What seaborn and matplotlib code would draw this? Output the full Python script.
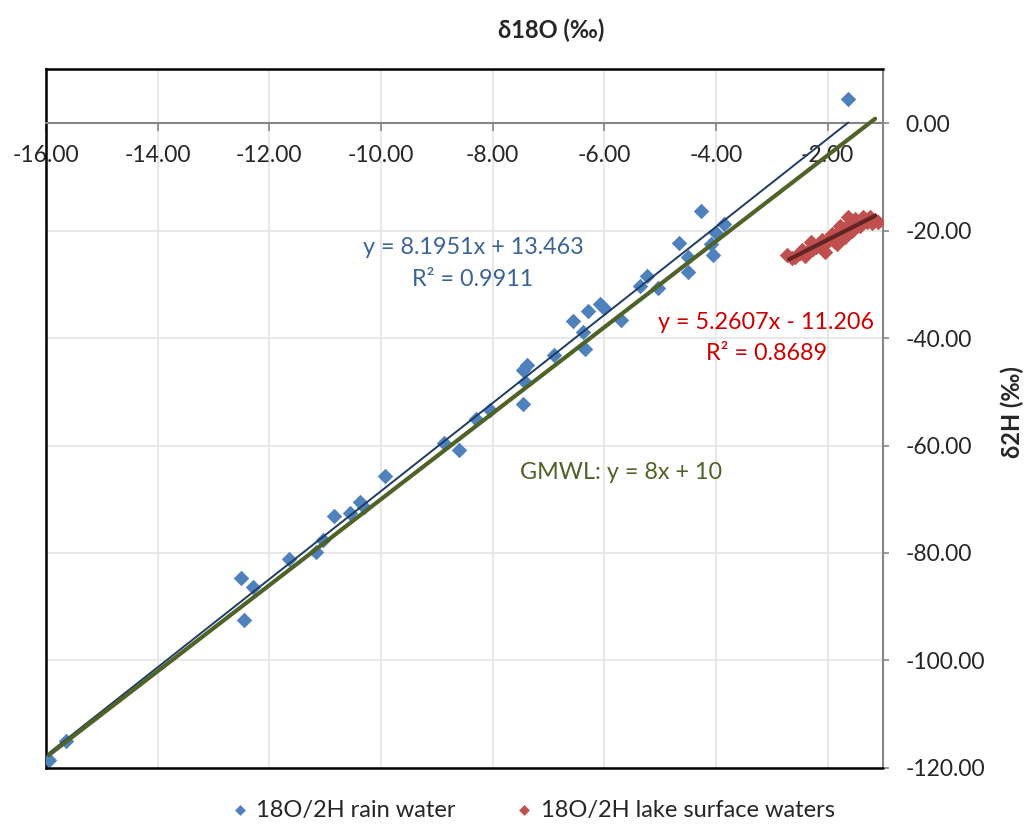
import numpy as np
import pandas as pd
import matplotlib.pyplot as plt
import seaborn as sns

# rain water samples (d18O, d2H)
rain_d18o = [-15.94, -15.65, -12.51, -12.29, -12.45, -11.65, -11.17, -11.03, -10.84, -10.55,
             -10.38, -10.30, -9.92, -8.87, -8.61, -8.30, -8.04, -7.46, -7.39, -7.42,
             -7.46, -6.90, -6.56, -6.30, -6.39, -6.35, -6.07, -6.01, -5.70, -5.36,
             -5.24, -5.03, -4.66, -4.50, -4.50, -4.27, -4.09, -4.06, -4.00, -3.86, -1.63]
rain_d2h = [-118.6, -114.9, -84.7, -86.4, -92.4, -81.2, -79.8, -77.5, -73.2, -72.5,
            -70.6, -71.5, -65.7, -59.5, -60.9, -55.0, -53.4, -45.9, -45.0, -48.2,
            -52.2, -43.1, -36.9, -35.0, -38.8, -42.0, -33.6, -34.4, -36.6, -30.4,
            -28.4, -30.7, -22.3, -24.9, -27.7, -16.3, -22.5, -24.5, -20.5, -18.7, 4.4]

# lake surface water samples
lake_d18o = [-2.72, -2.64, -2.58, -2.50, -2.46, -2.40, -2.35, -2.29, -2.26, -2.20,
             -2.15, -2.11, -2.05, -2.00, -1.96, -1.93, -1.88, -1.84, -1.80, -1.78,
             -1.73, -1.69, -1.66, -1.63, -1.60, -1.57, -1.54, -1.51, -1.47, -1.42,
             -1.39, -1.36, -1.30, -1.27, -1.24, -1.20, -1.15, -1.09]
lake_d2h = [-24.6, -25.2, -24.9, -24.2, -23.7, -24.8, -23.9, -22.2, -23.4, -23.0,
            -22.6, -21.8, -24.0, -22.0, -21.4, -20.6, -21.9, -22.5, -20.3, -19.1,
            -20.5, -21.2, -19.6, -17.5, -18.6, -20.0, -19.2, -17.8, -18.9, -19.1,
            -18.2, -17.5, -18.4, -17.9, -17.4, -18.6, -18.1, -18.4]

# trendline coefficients (slope, intercept) and GMWL extent
rain_fit = (8.1951, 13.463)
lake_fit = (5.2607, -11.206)
gmwl_fit = (8.0, 10.0)
gmwl_x = [-15.95, -1.15]
lake_fit_x = [-2.69, -1.15]

x_ticks = [-16, -14, -12, -10, -8, -6, -4, -2]
y_ticks = [-120, -100, -80, -60, -40, -20, 0]

rain = pd.DataFrame({'d18O': rain_d18o, 'd2H': rain_d2h})
lake = pd.DataFrame({'d18O': lake_d18o, 'd2H': lake_d2h})

sns.set_theme(style='white')
plt.rcParams['font.family'] = ['Lato', 'DejaVu Sans']

fig = plt.figure(figsize=(10.26, 8.24), dpi=100)
ax = fig.add_axes([0.0448, 0.068, 0.8163, 0.8479])

sns.scatterplot(data=rain, x='d18O', y='d2H', marker='D', s=62, color='#4F81BD',
                linewidth=0, ax=ax, label='18O/2H rain water', zorder=3)
sns.scatterplot(data=lake, x='d18O', y='d2H', marker='D', s=62, color='#C0504D',
                linewidth=0, ax=ax, label='18O/2H lake surface waters', zorder=3)

# trend lines
xr = np.array([rain.d18O.min(), rain.d18O.max()])
ax.plot(xr, rain_fit[0] * xr + rain_fit[1], color='#1F3C64', lw=1.4, zorder=4)
xg = np.array(gmwl_x)
ax.plot(xg, gmwl_fit[0] * xg + gmwl_fit[1], color='#4F6228', lw=3, zorder=5)
xl = np.array(lake_fit_x)
ax.plot(xl, lake_fit[0] * xl + lake_fit[1], color='#632523', lw=3, zorder=5)

ax.set_xlim(-16, -1)
ax.set_ylim(-120, 10)
ax.set_xticks(x_ticks)
ax.set_xticklabels([f'{v:.2f}' for v in x_ticks])
ax.set_yticks(y_ticks)
ax.set_yticklabels([f'{v:.2f}' for v in y_ticks])
ax.set_xlabel('')
ax.set_ylabel('')
ax.grid(True, color='#E6E6E6', lw=1.3, zorder=0)
ax.set_axisbelow(True)

# axes lines
ax.spines['bottom'].set_position(('data', 0))
ax.spines['bottom'].set_color('#868686')
ax.spines['bottom'].set_linewidth(1.5)
ax.spines['right'].set_color('#868686')
ax.spines['right'].set_linewidth(1.5)
for s in ['left', 'top']:
    ax.spines[s].set_color('black')
    ax.spines[s].set_linewidth(1.8)
ax.plot([0, 1], [0, 0], transform=ax.transAxes, color='black', lw=1.8, clip_on=False, zorder=6)

ax.yaxis.tick_right()
ax.tick_params(axis='x', direction='out', length=6, width=1.2, color='#868686',
               pad=10, labelsize=16.5, bottom=True)
ax.tick_params(axis='y', direction='out', length=4, width=1.2, color='#868686',
               pad=12, labelsize=16.5, right=True, left=False)
for lbl in ax.get_yticklabels():
    lbl.set_horizontalalignment('left')

# equation labels
eq_size = 16.8
ax.text(-8.35, -23.1, 'y = 8.1951x + 13.463', color='#3B6496', ha='center', va='center', fontsize=eq_size)
ax.text(-8.35, -29.1, 'R² = 0.9911', color='#3B6496', ha='center', va='center', fontsize=eq_size)
ax.text(-3.10, -37.1, 'y = 5.2607x - 11.206', color='#CC0000', ha='center', va='center', fontsize=eq_size)
ax.text(-3.09, -42.9, 'R² = 0.8689', color='#CC0000', ha='center', va='center', fontsize=eq_size)
ax.text(-5.70, -65.0, 'GMWL: y = 8x + 10', color='#4F6228', ha='center', va='center', fontsize=eq_size)

fig.text(551 / 1026, 1 - 30 / 824, 'δ18O (‰)', ha='center', va='center', fontsize=17, fontweight='bold')
fig.text(1012 / 1026, 1 - 412 / 824, 'δ2H (‰)', ha='center', va='center', rotation=90,
         fontsize=17, fontweight='bold')

handles, labels = ax.get_legend_handles_labels()
ax.legend(handles[:2], labels[:2], loc='center', bbox_to_anchor=(0.518, 1 - 810 / 824),
          bbox_transform=fig.transFigure, ncol=2, frameon=False, fontsize=17,
          markerscale=0.7, handletextpad=0.2, columnspacing=2.4, handlelength=1.0)

fig.savefig('out.png', dpi=100)
